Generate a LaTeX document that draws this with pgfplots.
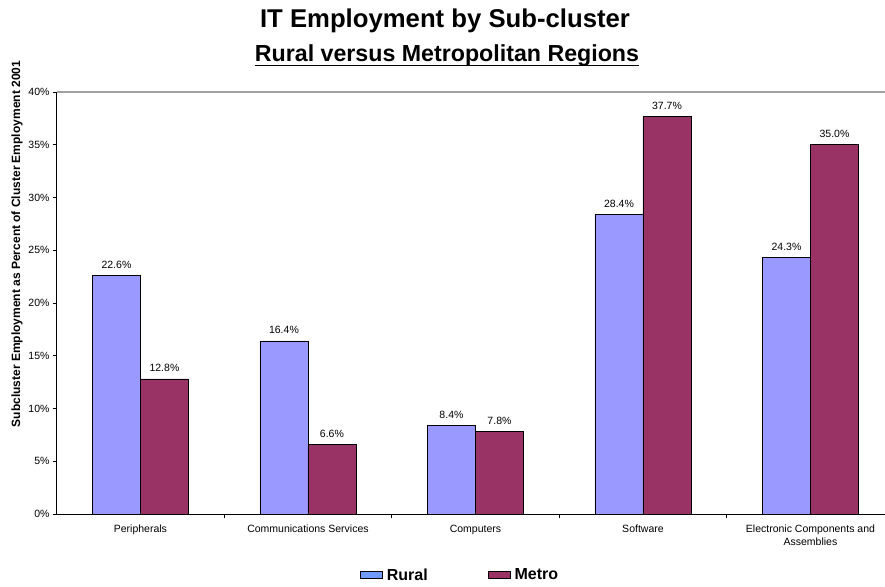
\documentclass[border=0pt]{standalone}
\usepackage{fontspec}
\setmainfont{Liberation Sans}
\usepackage{pgfplots}
\pgfplotsset{compat=1.18}
\definecolor{rural}{HTML}{9999FF}
\definecolor{metro}{HTML}{993366}
\definecolor{ruralleg}{HTML}{6F9BFF}
\definecolor{topline}{HTML}{A0A0A0}
\begin{document}
\begin{tikzpicture}[x=1pt,y=1pt]
\path[use as bounding box] (0,0) rectangle (885,586);
\begin{axis}[
  at={(56.7pt,72pt)}, anchor=south west,
  scale only axis, width=828.3pt, height=422pt,
  ybar=0pt, bar width=48pt,
  xmin=-0.5, xmax=4.445, ymin=0, ymax=40,
  axis x line*=bottom, axis y line*=left,
  axis line style={black, line width=0.9pt},
  /pgf/number format/assume math mode=true,
  tick align=outside,
  xtick={0,1,2,3,4},
  xticklabels={Peripherals, Communications Services, Computers, Software, {Electronic Components and\\Assemblies}},
  xticklabel style={font=\fontsize{10.5}{13}\selectfont, align=center, inner sep=0pt, yshift=-7pt},
  major x tick style={draw=none},
  minor xtick={0.5,1.5,2.5,3.5},
  minor tick length=4pt,
  minor x tick style={black, line width=0.9pt},
  ytick={0,5,...,40},
  major tick length=4pt,
  major y tick style={black, line width=0.9pt},
  yticklabel={\pgfmathprintnumber{\tick}\%},
  yticklabel style={font=\fontsize{10.5}{12}\selectfont, inner sep=0pt, xshift=-3pt},
  nodes near coords={\pgfmathprintnumber[fixed,fixed zerofill,precision=1]{\pgfplotspointmeta}\%},
  nodes near coords style={font=\fontsize{10.5}{12}\selectfont, anchor=base, inner sep=0pt, yshift=7pt, black},
  legend columns=2,
  legend style={at={(0.487,-0.1446)}, anchor=center, draw=none, fill=none,
    font=\fontsize{16}{18}\selectfont\bfseries,
    /tikz/every odd column/.append style={column sep=2pt},
    /tikz/every even column/.append style={column sep=58pt}},
]
\addplot[fill=rural, draw=black, line width=0.8pt,
  legend image code/.code={\draw[fill=ruralleg, draw=black, line width=0.8pt] (0pt,-3.8pt) rectangle (22pt,3.8pt);}]
  coordinates {(0,22.6) (1,16.4) (2,8.4) (3,28.4) (4,24.3)};
\addplot[fill=metro, draw=black, line width=0.8pt,
  legend image code/.code={\draw[fill=metro, draw=black, line width=0.8pt] (0pt,-3.8pt) rectangle (22pt,3.8pt);}]
  coordinates {(0,12.8) (1,6.6) (2,7.8) (3,37.7) (4,35.0)};
\legend{Rural, Metro}
\draw[topline, line width=1.2pt] (rel axis cs:0,1) -- (rel axis cs:1,1);
\end{axis}
\node[font=\fontsize{25.7}{30}\selectfont\bfseries, anchor=base, inner sep=0pt] at (445,558) {IT Employment by Sub-cluster};
\node[font=\fontsize{23.2}{28}\selectfont\bfseries, anchor=base, inner sep=0pt] (sub) at (447,524) {Rural versus Metropolitan Regions};
\draw[line width=1.8pt] ([yshift=-3.5pt]sub.base west) -- ([yshift=-3.5pt]sub.base east);
\node[rotate=90, font=\fontsize{12}{14}\selectfont\bfseries, inner sep=0pt] at (17,342) {Subcluster Employment as Percent of Cluster Employment 2001};
\end{tikzpicture}
\end{document}
